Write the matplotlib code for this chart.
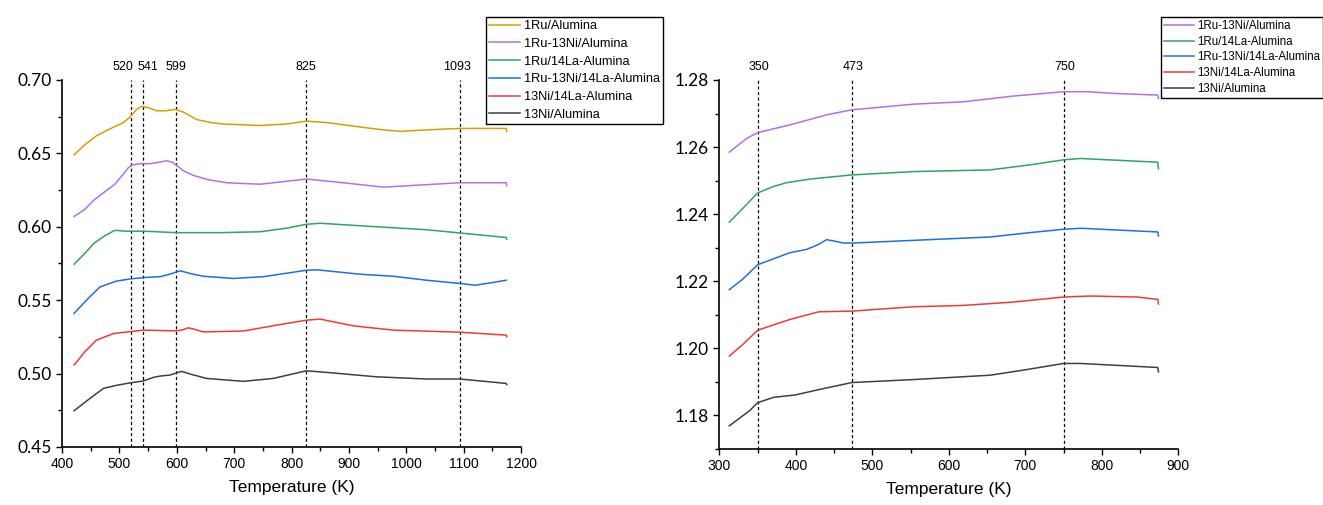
import matplotlib
matplotlib.use("Agg")
import matplotlib.pyplot as plt
from matplotlib.ticker import MultipleLocator, FormatStrFormatter

# ---- left panel data (Temperature K, signal) ----
ru_al_T = [421, 440, 460, 485, 507, 519, 530, 539, 552, 565, 580, 597, 612, 635, 660, 681, 745, 790, 826, 861, 919, 960, 989, 1035, 1093, 1174, 1175]
ru_al_v = [0.649, 0.656, 0.662, 0.667, 0.671, 0.675, 0.680, 0.682, 0.681, 0.679, 0.679, 0.680, 0.678, 0.673, 0.671, 0.670, 0.669, 0.670, 0.672, 0.671, 0.668, 0.666, 0.665, 0.666, 0.667, 0.667, 0.665]

ru_ni_al_T = [421, 440, 455, 475, 492, 507, 515, 521, 535, 553, 570, 582, 592, 599, 612, 629, 655, 687, 745, 826, 890, 960, 1035, 1093, 1174, 1175]
ru_ni_al_v = [0.607, 0.612, 0.618, 0.624, 0.629, 0.636, 0.640, 0.642, 0.643, 0.643, 0.644, 0.645, 0.644, 0.642, 0.638, 0.635, 0.632, 0.630, 0.629, 0.6325, 0.630, 0.627, 0.6287, 0.630, 0.630, 0.628]

ru_la_T = [421, 440, 455, 475, 492, 510, 542, 599, 675, 745, 790, 826, 850, 948, 1035, 1093, 1174, 1175]
ru_la_v = [0.5745, 0.582, 0.5886, 0.594, 0.5976, 0.597, 0.597, 0.596, 0.596, 0.5966, 0.599, 0.6017, 0.6024, 0.600, 0.598, 0.5958, 0.5927, 0.5915]

ru_ni_la_T = [421, 445, 466, 495, 519, 545, 571, 590, 606, 625, 646, 698, 751, 826, 844, 919, 977, 1035, 1093, 1120, 1150, 1174]
ru_ni_la_v = [0.541, 0.551, 0.559, 0.563, 0.5645, 0.5655, 0.566, 0.568, 0.570, 0.568, 0.5663, 0.5648, 0.566, 0.5704, 0.5707, 0.5677, 0.5663, 0.5636, 0.5614, 0.5602, 0.562, 0.5636]

ni_la_T = [421, 440, 460, 490, 542, 599, 610, 620, 632, 646, 716, 774, 826, 850, 908, 977, 1093, 1174, 1175]
ni_la_v = [0.5058, 0.515, 0.5228, 0.5273, 0.5296, 0.5291, 0.5298, 0.5312, 0.530, 0.5284, 0.529, 0.533, 0.5364, 0.5371, 0.5325, 0.5296, 0.5282, 0.5262, 0.525]

ni_al_T = [421, 445, 472, 495, 519, 541, 560, 571, 588, 600, 608, 625, 652, 716, 768, 826, 861, 948, 1035, 1093, 1174, 1175]
ni_al_v = [0.4747, 0.482, 0.4899, 0.492, 0.4937, 0.4949, 0.4975, 0.4983, 0.499, 0.5005, 0.5015, 0.4995, 0.4967, 0.4947, 0.4967, 0.5019, 0.5008, 0.4978, 0.4963, 0.4963, 0.4933, 0.4925]

# ---- right panel data ----
r_ru_ni_al_T = [313, 336, 350, 392, 440, 473, 554, 619, 684, 750, 782, 815, 873, 874]
r_ru_ni_al_v = [1.2585, 1.2626, 1.2643, 1.2666, 1.2696, 1.2711, 1.2728, 1.2735, 1.2752, 1.2765, 1.2765, 1.2760, 1.2755, 1.2745]

r_ru_la_T = [313, 331, 350, 370, 388, 420, 473, 554, 654, 706, 750, 772, 873, 874]
r_ru_la_v = [1.2376, 1.2418, 1.2463, 1.2482, 1.2494, 1.2505, 1.2517, 1.2527, 1.2532, 1.2547, 1.2562, 1.2566, 1.2555, 1.2535]

r_ru_ni_la_T = [313, 330, 350, 392, 414, 430, 440, 450, 462, 475, 554, 654, 706, 750, 772, 873, 874]
r_ru_ni_la_v = [1.2175, 1.2205, 1.2249, 1.2285, 1.2295, 1.2310, 1.2324, 1.2320, 1.2314, 1.2314, 1.2322, 1.2332, 1.2345, 1.2355, 1.2358, 1.2347, 1.2335]

r_ni_la_T = [313, 330, 350, 392, 430, 473, 554, 619, 684, 750, 785, 846, 873, 874]
r_ni_la_v = [1.1977, 1.2010, 1.2054, 1.2086, 1.2109, 1.2111, 1.2124, 1.2128, 1.2138, 1.2153, 1.2156, 1.2153, 1.2146, 1.2132]

r_ni_al_T = [313, 323, 340, 350, 371, 399, 432, 473, 554, 654, 697, 750, 772, 873, 874]
r_ni_al_v = [1.1769, 1.1786, 1.1815, 1.1838, 1.1854, 1.1861, 1.1878, 1.1898, 1.1907, 1.1920, 1.1935, 1.1955, 1.1955, 1.1943, 1.1930]

left_marks = [520, 541, 599, 825, 1093]
left_mark_pos = [507, 549, 599, 825, 1089]
right_marks = [350, 473, 750]

labels = ["1Ru/Alumina", "1Ru-13Ni/Alumina", "1Ru/14La-Alumina",
          "1Ru-13Ni/14La-Alumina", "13Ni/14La-Alumina", "13Ni/Alumina"]
colors = ["#d4a000", "#b66fe0", "#2ea65c", "#1f6fe0", "#f03a3a", "#404040"]

fig = plt.figure(figsize=(13.23, 5.05), dpi=100)
ax1 = fig.add_axes([0.0469, 0.1149, 0.347, 0.7267])
ax2 = fig.add_axes([0.5437, 0.1109, 0.347, 0.7307])


def style_axis(ax, xlim, ylim, xmaj, xmin, ymaj, ymin):
    ax.set_xlim(*xlim)
    ax.set_ylim(*ylim)
    ax.spines["top"].set_visible(False)
    ax.spines["right"].set_visible(False)
    ax.spines["left"].set_linewidth(1.2)
    ax.spines["bottom"].set_linewidth(1.2)
    ax.xaxis.set_major_locator(MultipleLocator(xmaj))
    ax.xaxis.set_minor_locator(MultipleLocator(xmin))
    ax.yaxis.set_major_locator(MultipleLocator(ymaj))
    ax.yaxis.set_minor_locator(MultipleLocator(ymin))
    ax.yaxis.set_major_formatter(FormatStrFormatter("%.2f"))
    ax.tick_params(which="major", direction="out", length=4, width=1)
    ax.tick_params(which="minor", direction="out", length=3, width=1)
    for t in ax.get_xticklabels():
        t.set_fontfamily("Liberation Sans")
        t.set_fontsize(10)
    for t in ax.get_yticklabels():
        t.set_fontfamily("Lato")
        t.set_fontsize(12.5)
    ax.set_xlabel("Temperature (K)", fontfamily="Liberation Sans", fontsize=12.5, labelpad=6)


style_axis(ax1, (400, 1200), (0.45, 0.70), 100, 50, 0.05, 0.025)
style_axis(ax2, (300, 900), (1.17, 1.28), 100, 50, 0.02, 0.01)

left_series = [(ru_al_T, ru_al_v), (ru_ni_al_T, ru_ni_al_v), (ru_la_T, ru_la_v),
               (ru_ni_la_T, ru_ni_la_v), (ni_la_T, ni_la_v), (ni_al_T, ni_al_v)]
for (t, v), lab, c in zip(left_series, labels, colors):
    ax1.plot(t, v, color=c, lw=1.1, label=lab)

right_series = [(r_ru_ni_al_T, r_ru_ni_al_v), (r_ru_la_T, r_ru_la_v), (r_ru_ni_la_T, r_ru_ni_la_v),
                (r_ni_la_T, r_ni_la_v), (r_ni_al_T, r_ni_al_v)]
for (t, v), lab, c in zip(right_series, labels[1:], colors[1:]):
    ax2.plot(t, v, color=c, lw=1.1, label=lab)

for m, p in zip(left_marks, left_mark_pos):
    ax1.axvline(m, color="black", lw=0.9, ls=(0, (2.5, 2)), zorder=1)
    ax1.text(p, 1.036, str(m), transform=ax1.get_xaxis_transform(), ha="center", va="center",
             fontsize=9, fontfamily="Liberation Sans")
for m in right_marks:
    ax2.axvline(m, color="black", lw=0.9, ls=(0, (2.5, 2)), zorder=1)
    ax2.text(m + 1.5, 1.036, str(m), transform=ax2.get_xaxis_transform(), ha="center", va="center",
             fontsize=9, fontfamily="Liberation Sans")

leg_props = dict(family="Liberation Sans")
h1, l1 = ax1.get_legend_handles_labels()
leg1 = fig.legend(h1, l1, loc="upper left", bbox_to_anchor=(0.3673, 0.9663),
                  prop=dict(leg_props, size=9.2), frameon=True, fancybox=False, edgecolor="black",
                  framealpha=1, borderpad=0.25, labelspacing=0.45, handlelength=2.4, handletextpad=0.3,
                  borderaxespad=0)
leg1.get_frame().set_linewidth(1.0)
h2, l2 = ax2.get_legend_handles_labels()
leg2 = fig.legend(h2, l2, loc="upper left", bbox_to_anchor=(0.8775, 0.9663),
                  prop=dict(leg_props, size=8.3), frameon=True, fancybox=False, edgecolor="black",
                  framealpha=1, borderpad=0.25, labelspacing=0.32, handlelength=2.6, handletextpad=0.3,
                  borderaxespad=0)
leg2.get_frame().set_linewidth(1.0)

fig.savefig("out.png", dpi=100)
